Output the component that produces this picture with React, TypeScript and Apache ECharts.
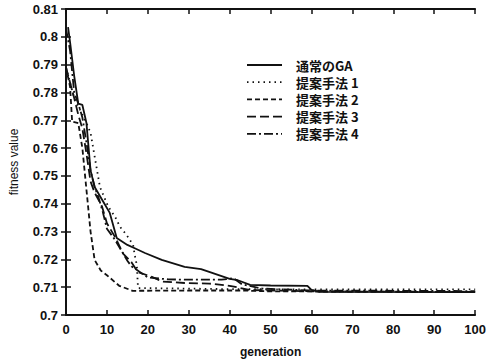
import React, { useEffect, useRef } from "react";
import * as echarts from "echarts";

const seriesNames = ["通常のGA", "提案手法 1", "提案手法 2", "提案手法 3", "提案手法 4"];

const gaData = [
  [0.5, 0.8035], [1, 0.798], [2, 0.786], [3, 0.776], [4, 0.7755], [5, 0.769], [6, 0.752], [7, 0.746],
  [9, 0.741], [10.7, 0.7367], [12.4, 0.7277], [15, 0.7252], [16.8, 0.724], [19.3, 0.7223], [23.4, 0.7198],
  [29, 0.7173], [33, 0.7165], [35, 0.7155], [40, 0.713], [42, 0.7125], [45, 0.7108], [50, 0.7106],
  [59, 0.7105], [60, 0.709], [62, 0.7083], [100, 0.7082],
];
const p1Data = [
  [0, 0.789], [2, 0.778], [4, 0.772], [5, 0.769], [6, 0.7655], [7, 0.757], [8.3, 0.746], [10.3, 0.739],
  [12, 0.7353], [13.2, 0.7317], [14.8, 0.7288], [16.4, 0.7252], [16.8, 0.7216], [17.3, 0.718],
  [17.6, 0.7097], [40, 0.7093], [60, 0.7092], [100, 0.7092],
];
const p2Data = [
  [0, 0.789], [1, 0.782], [1.5, 0.7695], [3, 0.769], [4, 0.76], [5, 0.745], [5.4, 0.739], [6, 0.73],
  [7, 0.7198], [8.5, 0.716], [10, 0.7143], [13, 0.7105], [16.3, 0.7087], [30, 0.7088], [43, 0.7088],
  [50, 0.7085], [100, 0.7083],
];
const p3Data = [
  [0, 0.789], [2, 0.778], [3, 0.772], [4, 0.767], [5, 0.758], [6, 0.748], [7, 0.744], [8.8, 0.739],
  [10, 0.733], [12, 0.728], [14, 0.722], [16, 0.719], [17.5, 0.7155], [21, 0.7137], [23.5, 0.712],
  [29, 0.7115], [35, 0.7113], [40, 0.7105], [45, 0.709], [60, 0.7085], [100, 0.7082],
];
const p4Data = [
  [0, 0.803], [1, 0.795], [2, 0.78], [3, 0.776], [4, 0.771], [5, 0.762], [6, 0.752], [7, 0.746],
  [8, 0.742], [9, 0.737], [10, 0.731], [12, 0.727], [14, 0.722], [15, 0.7195], [16, 0.7175],
  [17, 0.7165], [20, 0.7135], [25, 0.7128], [30, 0.7127], [38, 0.7127], [41, 0.7132], [43, 0.711],
  [48, 0.7095], [60, 0.7088], [100, 0.7086],
];

const allData = [gaData, p1Data, p2Data, p3Data, p4Data];
const dashes: any[] = ["solid", [1.5, 4], [5, 3], [9, 4], [9, 3, 2, 3]];

export default function App() {
  const ref = useRef<HTMLDivElement>(null);
  useEffect(() => {
    if (!ref.current) return;
    const chart = echarts.init(ref.current, null, { renderer: "svg" });
    const font = "'Liberation Sans', Arial, sans-serif";
    const legendX = 247;
    const legendY = 65;
    const legendGap = 17.2;
    const graphics: any[] = [];
    seriesNames.forEach((n, i) => {
      const y = legendY + i * legendGap;
      graphics.push({
        type: "line",
        shape: { x1: legendX, y1: y, x2: legendX + 35, y2: y },
        style: { stroke: "#111", lineWidth: 1.8, lineDash: i === 0 ? null : dashes[i] },
      });
      graphics.push({
        type: "text",
        x: legendX + 49,
        y: y,
        style: {
          text: n,
          fill: "#111",
          font: "bold 13px 'Noto Sans CJK JP', sans-serif",
          lineHeight: 14,
          textVerticalAlign: "middle",
        },
      });
    });
    chart.setOption({
      animation: false,
      backgroundColor: "#fff",
      grid: { left: 66, right: 13, top: 9, bottom: 48 },
      xAxis: [
        {
          type: "value",
          min: 0,
          max: 100,
          interval: 10,
          name: "generation",
          nameLocation: "middle",
          nameGap: 31,
          nameTextStyle: { fontFamily: font, fontSize: 12, color: "#111", fontWeight: "bold" },
          axisLine: { lineStyle: { color: "#111", width: 1.8 } },
          axisTick: { inside: true, length: 5, lineStyle: { color: "#111", width: 1.5 } },
          axisLabel: { fontFamily: font, fontSize: 13, color: "#111", fontWeight: "bold", margin: 8 },
          splitLine: { show: false },
        },
        {
          type: "value",
          position: "top",
          min: 0,
          max: 100,
          interval: 10,
          axisLine: { show: true, lineStyle: { color: "#111", width: 1.8 } },
          axisTick: { inside: true, length: 5, lineStyle: { color: "#111", width: 1.5 } },
          axisLabel: { show: false },
          splitLine: { show: false },
        },
      ],
      yAxis: [
        {
          type: "value",
          min: 0.7,
          max: 0.81,
          interval: 0.01,
          name: "fitness value",
          nameLocation: "middle",
          nameGap: 46,
          nameTextStyle: { fontFamily: font, fontSize: 12, color: "#111" },
          axisLine: { show: true, lineStyle: { color: "#111", width: 1.8 } },
          axisTick: { inside: true, length: 5, lineStyle: { color: "#111", width: 1.5 } },
          axisLabel: {
            fontFamily: font,
            fontSize: 13,
            color: "#111",
            fontWeight: "bold",
            margin: 8,
            formatter: (v: number) => String(parseFloat(v.toFixed(2))),
          },
          splitLine: { show: false },
        },
        {
          type: "value",
          position: "right",
          min: 0.7,
          max: 0.81,
          interval: 0.01,
          axisLine: { show: true, lineStyle: { color: "#111", width: 1.8 } },
          axisTick: { inside: true, length: 5, lineStyle: { color: "#111", width: 1.5 } },
          axisLabel: { show: false },
          splitLine: { show: false },
        },
      ],
      graphic: graphics,
      series: allData.map((d, i) => ({
        name: seriesNames[i],
        type: "line",
        data: d,
        symbol: "none",
        showSymbol: false,
        lineStyle: { color: "#111", width: 1.8, type: dashes[i] },
      })),
    });
    return () => chart.dispose();
  }, []);
  return (
    <div
      ref={ref}
      style={{ position: "absolute", left: 0, top: 0, width: 489, height: 363, background: "#fff" }}
    />
  );
}
